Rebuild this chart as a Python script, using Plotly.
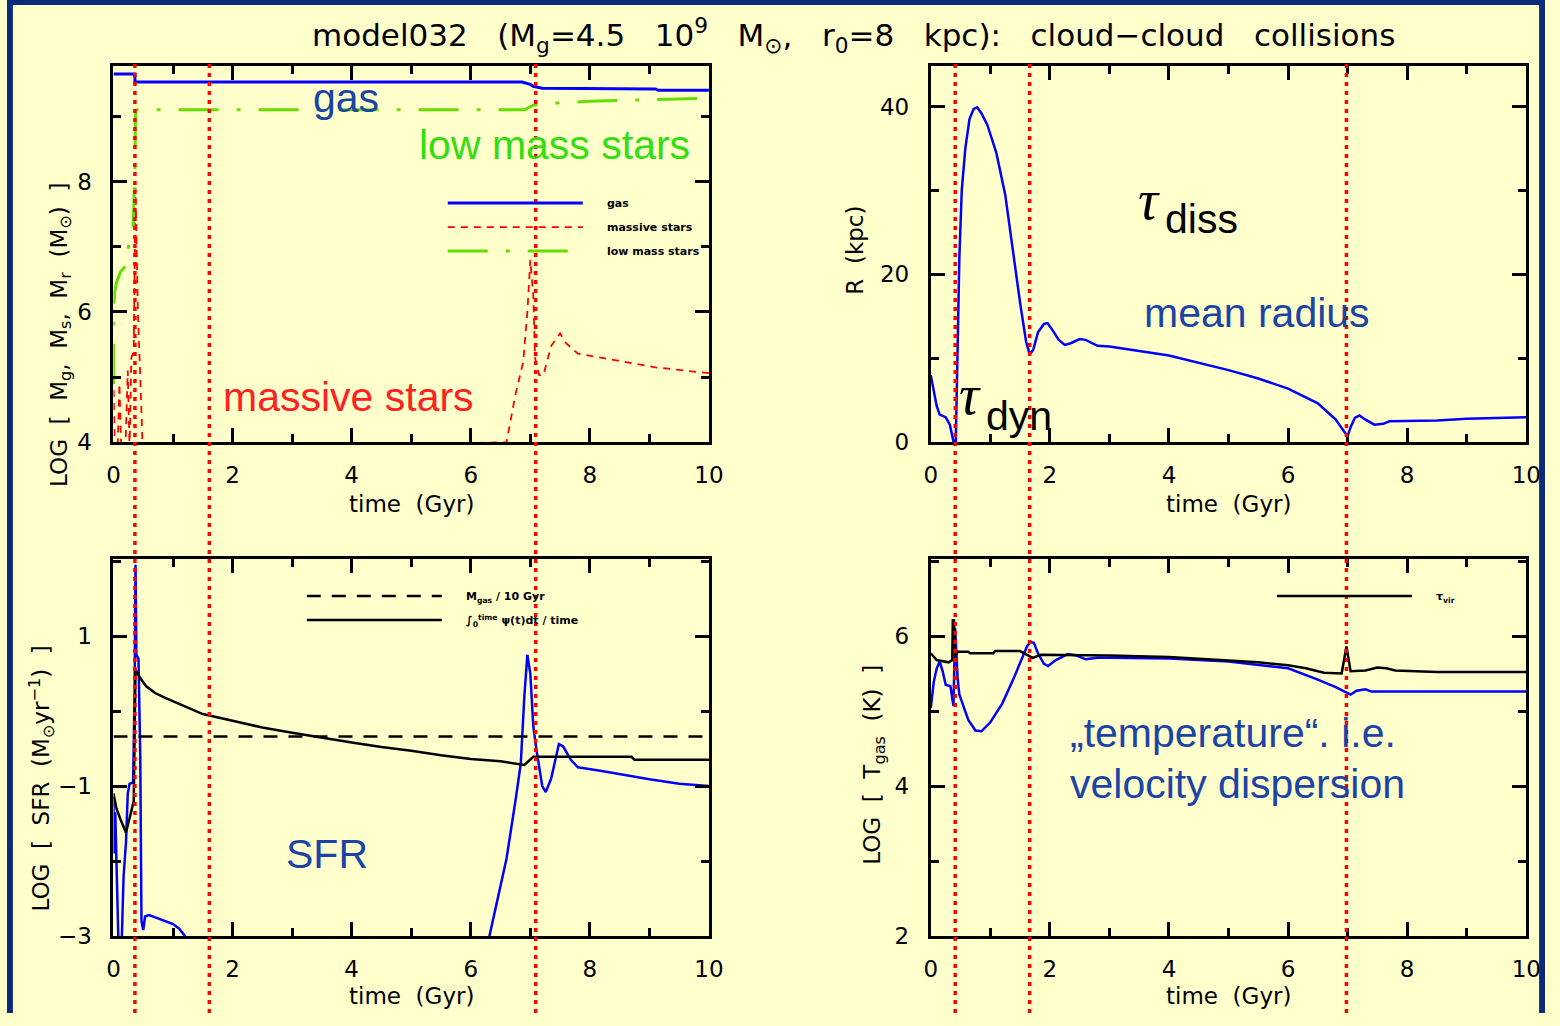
import plotly.graph_objects as go

# ---------------- data ----------------
# top-left: LOG masses vs time (Gyr)
T_GAS = [0, 0.36, 0.36, 6.86, 7.0, 7.05, 7.2, 7.85, 7.9, 9.1, 9.15, 10]
LOG_M_GAS = [9.65, 9.65, 9.525, 9.525, 9.49, 9.46, 9.43, 9.43, 9.42, 9.42, 9.40, 9.40]

T_MS = [0, 0.02, 0.07, 0.1, 0.13, 0.2, 0.24, 0.27, 0.3, 0.34, 0.37, 0.41, 0.45, 0.49,
        6.6, 6.75, 6.88, 6.95, 7.0, 7.05, 7.08, 7.15, 7.22, 7.35, 7.5, 7.6, 7.8, 8.4, 9.1, 10]
LOG_M_MS = [5.0, 3.9, 3.9, 4.9, 3.9, 3.9, 5.1, 3.9, 5.3, 5.4, 7.9, 6.0, 5.0, 3.9,
            4.0, 4.73, 5.23, 5.99, 6.8, 6.24, 5.29, 5.03, 5.03, 5.48, 5.67, 5.52, 5.36, 5.26, 5.15, 5.06]

T_LMS = [0, 0.0, 0.02, 0.05, 0.12, 0.2, 0.27, 0.33, 0.36, 0.37, 0.4, 6.9, 7.05, 7.2, 7.5, 8.0, 9.0, 10]
LOG_M_LMS = [4.9, 6.0, 6.3, 6.45, 6.62, 6.7, 7.1, 7.3, 8.2, 9.09, 9.10, 9.10, 9.17, 9.18, 9.21, 9.23, 9.26, 9.28]

# top-right: mean radius (kpc)
T_R = [0, 0.05, 0.1, 0.15, 0.25, 0.32, 0.35, 0.38, 0.42, 0.45, 0.48, 0.52, 0.58, 0.65, 0.72, 0.78,
       0.85, 0.95, 1.1, 1.25, 1.4, 1.5, 1.6, 1.66, 1.72, 1.8, 1.9, 1.96, 2.05, 2.15, 2.25, 2.35,
       2.5, 2.6, 2.8, 3.0, 4.0, 5.0, 5.5, 6.0, 6.5, 6.8, 6.95, 7.0, 7.05, 7.12, 7.2, 7.3, 7.45,
       7.6, 7.7, 8.5, 9.0, 9.5, 10]
R_KPC = [8.0, 6.0, 4.3, 3.3, 3.0, 2.1, 1.3, 0.15, 0.1, 10, 22, 30, 35, 38.5, 39.7, 39.9,
         39.2, 37.8, 34.5, 29.5, 21.7, 16.6, 12.0, 10.5, 11.0, 13.1, 14.1, 14.2, 13.3, 12.2, 11.6, 11.8,
         12.3, 12.2, 11.5, 11.4, 10.35, 8.6, 7.6, 6.4, 4.65, 2.7, 1.2, 0.75, 1.8, 2.9, 3.2, 2.7, 2.1,
         2.2, 2.5, 2.6, 2.8, 2.9, 3.0]

# bottom-left: LOG SFR
T_SFR = [0, 0.005, 0.03, 0.06, 0.09, 0.13, 0.17, 0.21, 0.24, 0.27, 0.33, 0.355, 0.37, 0.385, 0.42,
         0.45, 0.47, 0.5, 0.53, 0.6, 0.8, 1.0, 1.1, 1.2, 1.25,
         None,
         6.3, 6.45, 6.6, 6.75, 6.84, 6.9, 6.95, 7.0, 7.05, 7.1, 7.2, 7.26, 7.35, 7.48, 7.55, 7.68,
         7.8, 8.2, 8.6, 9.0, 9.5, 10]
LOG_SFR = [-1.15, -1.9, -1.35, -2.15, -3.3, -3.3, -2.2, -1.75, -1.1, -0.97, -0.95, 0.3, 1.95, 0.75, 0.7,
           -0.6, -2.8, -2.92, -2.74, -2.72, -2.78, -2.84, -2.9, -3.0, -3.1,
           None,
           -3.05, -2.5, -1.97, -1.2, -0.7, 0.2, 0.75, 0.5, -0.2, -0.5, -1.0, -1.08, -0.9, -0.44, -0.47, -0.65,
           -0.75, -0.8, -0.86, -0.91, -0.97, -1.0]

T_MEAN = [0, 10]
LOG_MGAS_10GYR = [-0.34, -0.34]

T_CUM = [0, 0.05, 0.12, 0.21, 0.28, 0.34, 0.37, 0.45, 0.55, 0.7, 0.86, 1.0, 1.25, 1.5, 2.0, 2.5,
         3.0, 3.5, 4.0, 4.5, 5.0, 5.5, 6.0, 6.5, 6.85, 6.9, 7.05, 8.7, 8.75, 10]
LOG_CUM_SFR = [-1.1, -1.3, -1.45, -1.62, -1.4, -1.2, 0.55, 0.44, 0.33, 0.24, 0.18, 0.13, 0.04, -0.04,
               -0.13, -0.22, -0.29, -0.36, -0.42, -0.48, -0.53, -0.59, -0.64, -0.67, -0.71, -0.72,
               -0.61, -0.61, -0.65, -0.65]

# bottom-right: LOG T_gas and tau_vir
T_TG = [0, 0.05, 0.1, 0.15, 0.2, 0.25, 0.33, 0.36, 0.38, 0.41, 0.45, 0.48, 0.55, 0.63, 0.75, 0.85,
        1.0, 1.2, 1.4, 1.55, 1.62, 1.68, 1.73, 1.8, 1.9, 1.97, 2.1, 2.3, 2.45, 2.6, 2.8, 3.0, 4.0,
        5.0, 6.0, 6.5, 6.8, 7.0, 7.05, 7.15, 7.3, 7.4, 10]
LOG_TGAS = [5.04, 5.39, 5.57, 5.66, 5.53, 5.35, 5.33, 5.18, 5.07, 6.1, 5.44, 5.22, 5.05, 4.88, 4.74, 4.73,
            4.85, 5.1, 5.45, 5.75, 5.87, 5.92, 5.91, 5.77, 5.63, 5.6, 5.68, 5.76, 5.74, 5.69, 5.71, 5.71, 5.70,
            5.66, 5.57, 5.42, 5.32, 5.24, 5.22, 5.27, 5.29, 5.26, 5.26]

T_VIR = [0, 0.1, 0.3, 0.36, 0.37, 0.39, 0.41, 0.45, 0.63, 0.66, 1.05, 1.08, 1.5, 1.63, 1.71, 1.85,
         2.5, 3.0, 4.0, 5.0, 5.5, 6.0, 6.3, 6.6, 6.9, 6.98, 7.05, 7.3, 7.5, 7.65, 7.8, 8.5, 10]
LOG_TVIR = [5.77, 5.68, 5.65, 5.68, 6.21, 6.21, 5.72, 5.79, 5.79, 5.77, 5.77, 5.80, 5.80, 5.75, 5.71, 5.75,
            5.75, 5.74, 5.72, 5.68, 5.65, 5.61, 5.57, 5.51, 5.50, 5.86, 5.53, 5.54, 5.58, 5.57, 5.54, 5.52, 5.52]

# epochs marked by red dotted lines (drawn on the slide)
VLINES_LEFT = [0.36, 1.61, 7.09]
VLINES_RIGHT = [0.41, 1.66, 6.98]

# ---------------- layout helpers ----------------
W, H = 1560, 1026
def fx(px):
    return px / W
def fy(py):
    return 1 - py / H

BG = "#FFFFCC"
NAVY = "#0c2a7c"
BLUE = "#0000ff"
TXTBLUE = "#1c44a6"
PFONT = "DejaVu Sans"
AFONT = "Liberation Sans"
NB = "&nbsp;"

def xaxis(px0, px1, anchor):
    return dict(domain=[fx(px0), fx(px1)], range=[0, 10], anchor=anchor,
                showgrid=False, zeroline=False, showline=True, linecolor="black", linewidth=3,
                mirror="allticks", ticks="inside", ticklen=14, tickwidth=2.5, tickcolor="black",
                tick0=0, dtick=2,
                minor=dict(dtick=1, ticks="inside", ticklen=8, tickwidth=2.5, tickcolor="black", showgrid=False),
                tickfont=dict(family=PFONT, size=23, color="black"), ticklabelstandoff=10)

def yaxis(py0, py1, rng, tick0, dtick, mdtick, anchor):
    return dict(domain=[fy(py1), fy(py0)], range=rng, anchor=anchor,
                showgrid=False, zeroline=False, showline=True, linecolor="black", linewidth=3,
                mirror="allticks", ticks="inside", ticklen=14, tickwidth=2.5, tickcolor="black",
                tick0=tick0, dtick=dtick,
                minor=dict(dtick=mdtick, ticks="inside", ticklen=8, tickwidth=2.5, tickcolor="black", showgrid=False),
                tickfont=dict(family=PFONT, size=23, color="black"), ticklabelstandoff=14)

fig = go.Figure()
LPAD = NB * 5

# top-left
fig.add_trace(go.Scatter(x=T_GAS, y=LOG_M_GAS, mode="lines", name=LPAD + "gas",
                         line=dict(color=BLUE, width=3), xaxis="x", yaxis="y",
                         legend="legend", legendgroup="g1"))
fig.add_trace(go.Scatter(x=T_MS, y=LOG_M_MS, mode="lines", name=LPAD + "massive" + NB + "stars",
                         line=dict(color="#ff0000", width=1.8, dash="7px,6px"), xaxis="x", yaxis="y",
                         legend="legend", legendgroup="g2"))
fig.add_trace(go.Scatter(x=T_LMS, y=LOG_M_LMS, mode="lines", name=LPAD + "low" + NB + "mass" + NB + "stars",
                         line=dict(color="#66dd00", width=3, dash="40px,18px,4px,18px"), xaxis="x", yaxis="y",
                         legend="legend", legendgroup="g3"))
# top-right
fig.add_trace(go.Scatter(x=T_R, y=R_KPC, mode="lines", showlegend=False,
                         line=dict(color=BLUE, width=2.5), xaxis="x2", yaxis="y2"))
# bottom-left
fig.add_trace(go.Scatter(x=T_SFR, y=LOG_SFR, mode="lines", showlegend=False,
                         line=dict(color=BLUE, width=2.5), xaxis="x3", yaxis="y3"))
fig.add_trace(go.Scatter(x=T_MEAN, y=LOG_MGAS_10GYR, mode="lines", name=LPAD + "M<sub>gas</sub> / 10 Gyr",
                         line=dict(color="black", width=2.5, dash="14px,11px"), xaxis="x3", yaxis="y3",
                         legend="legend2", legendgroup="h1"))
fig.add_trace(go.Scatter(x=T_CUM, y=LOG_CUM_SFR, mode="lines",
                         name=LPAD + "∫<sub>0</sub><sup>time</sup> ψ(t)dt / time",
                         line=dict(color="black", width=2.5), xaxis="x3", yaxis="y3",
                         legend="legend2", legendgroup="h2"))
# bottom-right
fig.add_trace(go.Scatter(x=T_TG, y=LOG_TGAS, mode="lines", showlegend=False,
                         line=dict(color=BLUE, width=2.5), xaxis="x4", yaxis="y4"))
fig.add_trace(go.Scatter(x=T_VIR, y=LOG_TVIR, mode="lines", name=LPAD + "τ<sub>vir</sub>",
                         line=dict(color="black", width=2.5), xaxis="x4", yaxis="y4",
                         legend="legend3"))

legend_common = dict(bgcolor="rgba(0,0,0,0)", borderwidth=0, itemwidth=135,
                     font=dict(family=PFONT, size=11, color="black", weight="bold"),
                     xanchor="left", yanchor="top", tracegroupgap=5, traceorder="grouped")

layout = dict(
    width=W, height=H, margin=dict(l=0, r=0, t=0, b=0), autosize=False,
    paper_bgcolor=BG, plot_bgcolor=BG, showlegend=True,
    xaxis=xaxis(108, 712, "y"), yaxis=yaxis(67, 448, [4, 9.77], 4, 2, 1, "x"),
    xaxis2=xaxis(937, 1541, "y2"), yaxis2=yaxis(67, 448, [0, 44.8], 0, 20, 10, "x2"),
    xaxis3=xaxis(108, 712, "y3"), yaxis3=yaxis(566, 948, [-3, 2.03], -3, 2, 1, "x3"),
    xaxis4=xaxis(937, 1541, "y4"), yaxis4=yaxis(566, 948, [2, 7.03], 2, 2, 1, "x4"),
    legend=dict(legend_common, x=fx(442), y=fy(191)),
    legend2=dict(legend_common, x=fx(299), y=fy(589)),
    legend3=dict(legend_common, x=fx(1283), y=fy(589)),
)
fig.update_layout(**layout)

shapes = []
# slide border
for (x0, x1, y0, y1) in [(0, fx(6), 0, 1), (0, 1, fy(5), 1), (fx(1554), 1, 0, 1)]:
    shapes.append(dict(type="rect", xref="paper", yref="paper", x0=x0, x1=x1, y0=y0, y1=y1,
                       fillcolor=NAVY, line=dict(width=0), layer="above"))
# red dotted epoch lines
for t in VLINES_LEFT:
    shapes.append(dict(type="line", xref="x", yref="paper", x0=t, x1=t, y0=0, y1=fy(62),
                       line=dict(color="#ff0000", width=3.5, dash="4px,5px"), layer="above"))
for t in VLINES_RIGHT:
    shapes.append(dict(type="line", xref="x2", yref="paper", x0=t, x1=t, y0=0, y1=fy(62),
                       line=dict(color="#ff0000", width=3.5, dash="4px,5px"), layer="above"))
fig.update_layout(shapes=shapes)

ann = []
def add_text(text, px, py, size, color, family=AFONT, xanchor="center", angle=0, style="normal"):
    ann.append(dict(text=text, x=fx(px), y=fy(py), xref="paper", yref="paper", showarrow=False,
                    xanchor=xanchor, yanchor="middle", textangle=angle,
                    font=dict(family=family, size=size, color=color, style=style)))

# title
S3 = NB * 3
add_text("model032" + S3 + "(M<sub>g</sub>=4.5" + S3 + "10<sup>9</sup>" + S3 + "M<sub>⊙</sub>," + S3 +
         "r<sub>0</sub>=8" + S3 + "kpc):" + S3 + "cloud−cloud" + S3 + "collisions",
         859, 36, 31, "black", PFONT)
# axis titles
for cx in (410, 1239):
    add_text("time" + NB*2 + "(Gyr)", cx, 510, 23, "black", PFONT)
    add_text("time" + NB*2 + "(Gyr)", cx, 1009, 23, "black", PFONT)
add_text("LOG" + NB*2 + "[" + NB*2 + "M<sub>g</sub>," + NB*2 + "M<sub>s</sub>," + NB*2 + "M<sub>r</sub>" + NB*2 +
         "(M<sub>⊙</sub>)" + NB*2 + "]", 54, 339, 23, "black", PFONT, angle=-90)
add_text("LOG" + NB*2 + "[" + NB*2 + "SFR" + NB*2 + "(M<sub>⊙</sub>yr<sup>−1</sup>)" + NB*2 + "]",
         34, 789, 23, "black", PFONT, angle=-90)
add_text("R" + NB*2 + "(kpc)", 860, 253, 23, "black", PFONT, angle=-90)
add_text("LOG" + NB*2 + "[" + NB*2 + "T<sub>gas</sub>" + NB*2 + "(K)" + NB*2 + "]",
         880, 775, 23, "black", PFONT, angle=-90)

# slide overlay labels
add_text("gas", 344, 99, 41, TXTBLUE)
add_text("low mass stars", 555, 147, 41, "#33dd11")
add_text("massive stars", 346, 402, 41, "#ff2020")
add_text("mean radius", 1268, 317, 41, TXTBLUE)
add_text("SFR", 325, 865, 41, TXTBLUE)
add_text("„temperature“. i.e.", 1076, 742, 41, TXTBLUE, xanchor="left")
add_text("velocity dispersion", 1076, 794, 41, TXTBLUE, xanchor="left")
add_text("τ", 1158, 203, 56, "black", "Liberation Serif", style="italic")
add_text("diss", 1173, 222, 41, "black", xanchor="left")
add_text("τ", 977, 400, 56, "black", "Liberation Serif", style="italic")
add_text("dyn", 991, 421, 41, "black", xanchor="left")

fig.update_layout(annotations=ann)

fig.write_html("out.html")
